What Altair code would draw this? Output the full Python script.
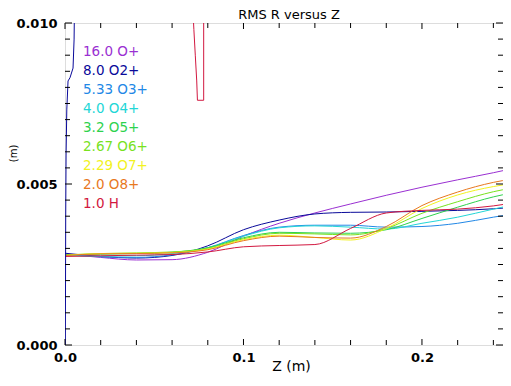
import altair as alt
import pandas as pd

# ---------------- data ----------------
Z = [0.0, 0.02, 0.04, 0.06, 0.08, 0.10, 0.12, 0.14, 0.16, 0.18, 0.20, 0.22, 0.24, 0.25]

labels = ["16.0 O+", "8.0 O2+", "5.33 O3+", "4.0 O4+", "3.2 O5+",
          "2.67 O6+", "2.29 O7+", "2.0 O8+", "1.0 H"]
colors = ["#9a30d2", "#0a0a9a", "#2288e6", "#22d6d6", "#2ed24e",
          "#78e21e", "#f2f21e", "#e8781e", "#d21840"]

r_o1 = [0.00282, 0.00272, 0.00264, 0.00265, 0.00288, 0.00338, 0.00378, 0.00410, 0.00438, 0.00465, 0.00490, 0.00513, 0.00535, 0.00547]
r_o2 = [0.00285, 0.00275, 0.00270, 0.00278, 0.00308, 0.00358, 0.00388, 0.00407, 0.00412, 0.00413, 0.00415, 0.00418, 0.00423, 0.00427]
r_o3 = [0.00280, 0.00274, 0.00272, 0.00280, 0.00302, 0.00340, 0.00366, 0.00372, 0.00372, 0.00366, 0.00368, 0.00378, 0.00397, 0.00406]
r_o4 = [0.00278, 0.00276, 0.00277, 0.00284, 0.00302, 0.00338, 0.00364, 0.00370, 0.00366, 0.00360, 0.00378, 0.00397, 0.00422, 0.00434]
r_o5 = [0.00280, 0.00282, 0.00284, 0.00288, 0.00302, 0.00333, 0.00350, 0.00348, 0.00347, 0.00358, 0.00393, 0.00428, 0.00460, 0.00472]
r_o6 = [0.00280, 0.00284, 0.00286, 0.00289, 0.00300, 0.00330, 0.00347, 0.00345, 0.00342, 0.00362, 0.00409, 0.00445, 0.00476, 0.00487]
r_o7 = [0.00278, 0.00284, 0.00285, 0.00287, 0.00298, 0.00327, 0.00341, 0.00334, 0.00326, 0.00362, 0.00424, 0.00466, 0.00492, 0.00501]
r_o8 = [0.00278, 0.00283, 0.00284, 0.00286, 0.00296, 0.00324, 0.00338, 0.00334, 0.00332, 0.00368, 0.00433, 0.00475, 0.00505, 0.00515]
r_h = [0.00275, 0.00277, 0.00279, 0.00281, 0.00289, 0.00305, 0.00309, 0.00312, 0.00362, 0.00410, 0.00418, 0.00422, 0.00432, 0.00440]
series_values = [r_o1, r_o2, r_o3, r_o4, r_o5, r_o6, r_o7, r_o8, r_h]

# extra pieces of two curves
o2_edge_z = [0.0002, 0.0004, 0.0006, 0.0010, 0.0017, 0.0028, 0.0045, 0.0051, 0.0053]
o2_edge_r = [0.0000, 0.0040, 0.0059, 0.0073, 0.0082, 0.0083, 0.0086, 0.0095, 0.0105]
h_spike_z = [0.0716, 0.0722, 0.0730, 0.0738, 0.0742, 0.0777, 0.0777]
h_spike_r = [0.0105, 0.0098, 0.0090, 0.0082, 0.0076, 0.0076, 0.0105]

x_major = [0.0, 0.1, 0.2]
x_minor = [0.02, 0.04, 0.06, 0.08, 0.12, 0.14, 0.16, 0.18, 0.22, 0.24]
y_major = [0.0, 0.005, 0.010]
y_minor = [0.0005, 0.001, 0.0015, 0.002, 0.0025, 0.003, 0.0035, 0.004, 0.0045,
           0.0055, 0.006, 0.0065, 0.007, 0.0075, 0.008, 0.0085, 0.009, 0.0095]

chart_title = "RMS R versus Z"

# ---------------- tables ----------------
rows = []
for lab, vals in zip(labels, series_values):
    for i, (z, r) in enumerate(zip(Z, vals)):
        rows.append({"series": lab, "z": z, "r": r, "i": i})
main_df = pd.DataFrame(rows)

extra = []
for i, (z, r) in enumerate(zip(o2_edge_z, o2_edge_r)):
    extra.append({"series": labels[1], "seg": "a", "z": z, "r": r, "i": i})
for i, (z, r) in enumerate(zip(h_spike_z, h_spike_r)):
    extra.append({"series": labels[8], "seg": "b", "z": z, "r": r, "i": i})
extra_df = pd.DataFrame(extra)

W, H = 438, 322
X_MAX = 0.2454
FONT = "DejaVu Sans"

xs = alt.Scale(domain=[0, X_MAX], nice=False, zero=False)
ys = alt.Scale(domain=[0, 0.010], nice=False, zero=False)
cs = alt.Scale(domain=labels, range=colors)

x_axis = alt.Axis(values=x_major, format=".1f", title="Z (m)", ticks=False, domain=False,
                  grid=False, labelFlush=False, labelPadding=6, labelFont=FONT,
                  labelFontWeight="bold", labelFontSize=13, labelColor="black",
                  titleFont=FONT, titleFontSize=14, titleFontWeight="normal",
                  titleColor="black", titleY=25, titleX=226, titleBaseline="alphabetic")
y_axis = alt.Axis(values=y_major, format=".3f", title="(m)", ticks=False, domain=False,
                  grid=False, labelPadding=8, labelFont=FONT, labelFontWeight="bold",
                  labelFontSize=13, labelColor="black", titleFont=FONT,
                  titleFontSize=10, titleFontWeight="normal", titleColor="black",
                  titleX=-49, titleY=130, titleBaseline="alphabetic", titleAlign="center")

x_enc = alt.X("z:Q", scale=xs, axis=x_axis)
y_enc = alt.Y("r:Q", scale=ys, axis=y_axis)
c_enc = alt.Color("series:N", scale=cs, legend=None)

lines = alt.Chart(main_df).mark_line(strokeWidth=1, interpolate="monotone", clip=True).encode(
    x=x_enc, y=y_enc, color=c_enc, detail="series:N", order="i:Q")

extras = alt.Chart(extra_df).mark_line(strokeWidth=1, clip=True).encode(
    x=x_enc, y=y_enc, color=c_enc, detail="seg:N", order="i:Q")


def xticks(vals, length):
    d = pd.DataFrame({"z": vals})
    bot = alt.Chart(d).mark_rule(color="black", strokeWidth=1).encode(
        x=x_enc, y=alt.value(H), y2=alt.value(H - length))
    top = alt.Chart(d).mark_rule(color="black", strokeWidth=1).encode(
        x=x_enc, y=alt.value(0), y2=alt.value(length))
    return [bot, top]


def yticks(vals, length):
    d = pd.DataFrame({"r": vals})
    left = alt.Chart(d).mark_rule(color="black", strokeWidth=1).encode(
        y=y_enc, x=alt.value(0), x2=alt.value(length))
    right = alt.Chart(d).mark_rule(color="black", strokeWidth=1).encode(
        y=y_enc, x=alt.value(W), x2=alt.value(W - length))
    return [left, right]


tick_layers = xticks(x_major, 6) + xticks(x_minor, 5) + yticks(y_major, 7) + yticks(y_minor, 5)

plot = alt.layer(lines, extras, *tick_layers)

title_mark = alt.Chart(pd.DataFrame({"t": [chart_title]})).mark_text(
    align="center", baseline="alphabetic", font=FONT, fontSize=13, color="black"
).encode(text="t:N", x=alt.value(W / 2 + 5), y=alt.value(-4))

leg_df = pd.DataFrame({"series": labels, "row": list(range(len(labels)))})
legend = alt.Chart(leg_df).mark_text(align="left", baseline="middle", font=FONT,
                                     fontSize=13.5).encode(
    x=alt.value(18),
    y=alt.Y("row:Q", scale=alt.Scale(domain=[0, 8], range=[29, 181]), axis=None),
    text="series:N",
    color=c_enc,
)

chart = alt.layer(plot, legend, title_mark).resolve_scale(y="independent").properties(
    width=W, height=H,
    padding={"left": 57, "top": 15, "right": 0, "bottom": 33},
    autosize=alt.AutoSizeParams(type="none"),
).configure_view(stroke="black", strokeWidth=1).configure(background="white")

chart.save("out.html", embed_options={"renderer": "svg", "actions": False})
